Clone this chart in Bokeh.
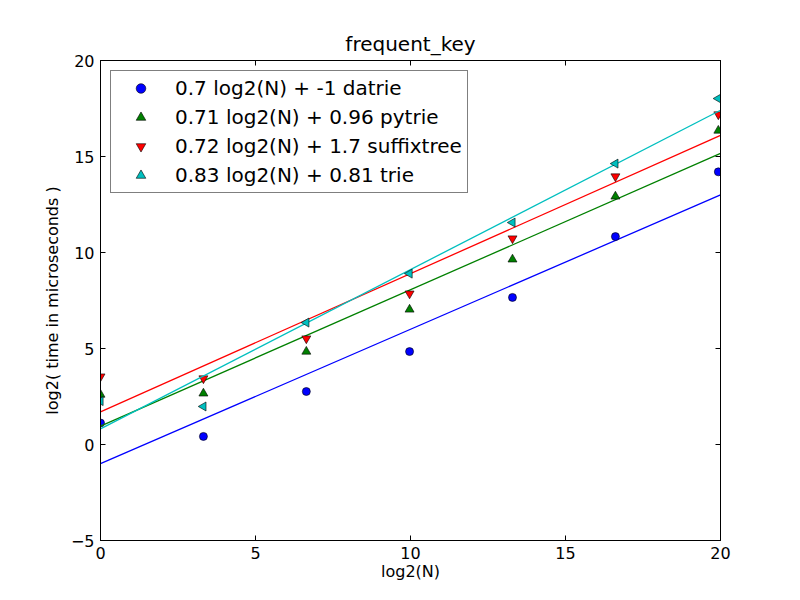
import math
from bokeh.plotting import figure
from bokeh.models import Range1d, LinearAxis, Legend, LegendItem, FixedTicker
from bokeh.embed import file_html
from bokeh.resources import INLINE

# ---- data ----
log2_n = [0.0, 3.32, 6.64, 9.97, 13.29, 16.61, 19.93]
datrie = [1.12, 0.42, 2.76, 4.84, 7.66, 10.83, 14.2]
pytrie = [2.6, 2.66, 4.84, 7.03, 9.64, 12.92, 16.35]
suffixtree = [3.54, 3.44, 5.52, 7.86, 10.73, 13.96, 17.19]
trie = [2.26, 1.98, 6.35, 8.9, 11.56, 14.63, 18.02]

series_names = ["datrie", "pytrie", "suffixtree", "trie"]
fit_slopes = [0.7, 0.71, 0.72, 0.83]
fit_intercepts = [-1.0, 0.96, 1.7, 0.81]
fit_slope_labels = ["0.7", "0.71", "0.72", "0.83"]
fit_intercept_labels = ["-1", "0.96", "1.7", "0.81"]
fit_x = [0, 20]

x_ticks = [0, 5, 10, 15, 20]
y_ticks = [-5, 0, 5, 10, 15, 20]

colors = ["#0000ff", "#008000", "#ff0000", "#00bfbf"]
markers = ["circle", "triangle", "inverted_triangle", "triangle"]
angles = [0, 0, 0, math.pi / 2]
sizes = [8, 9, 9, 9]

FONT = "DejaVu Sans"

p = figure(frame_width=620, frame_height=480,
           min_border_left=100, min_border_right=64,
           min_border_top=60, min_border_bottom=44,
           x_range=Range1d(0, 20), y_range=Range1d(-5, 20),
           output_backend="svg", toolbar_location=None,
           title="frequent_key")

p.title.align = "center"
p.title.text_font = FONT
p.title.text_font_size = "20px"
p.title.text_font_style = "normal"
p.title.text_color = "black"
p.title.standoff = 9

p.grid.visible = False
p.outline_line_color = "black"
p.outline_line_width = 1
p.background_fill_color = "white"
p.border_fill_color = "white"

p.xaxis.axis_label = "log2(N)"
p.yaxis.axis_label = "log2( time in microseconds )"
for ax in (p.xaxis[0], p.yaxis[0]):
    ax.axis_label_text_font = FONT
    ax.axis_label_text_font_size = "16px"
    ax.axis_label_text_font_style = "normal"
    ax.axis_label_text_color = "black"
    ax.major_label_text_font = FONT
    ax.major_label_text_font_size = "16px"
    ax.major_label_text_color = "black"
    ax.major_tick_in = 5
    ax.major_tick_out = 0
    ax.minor_tick_line_color = None
    ax.axis_line_color = "black"
    ax.major_tick_line_color = "black"
    ax.major_label_standoff = 6
p.xaxis[0].axis_label_standoff = 0
p.yaxis[0].axis_label_standoff = 6
p.xaxis[0].ticker = FixedTicker(ticks=x_ticks)
p.yaxis[0].ticker = FixedTicker(ticks=y_ticks)

top = LinearAxis(ticker=FixedTicker(ticks=x_ticks),
                 major_label_overrides={t: "" for t in x_ticks})
right = LinearAxis(ticker=FixedTicker(ticks=y_ticks),
                   major_label_overrides={t: "" for t in y_ticks})
for ax in (top, right):
    ax.major_label_standoff = 0
    ax.major_tick_in = 5
    ax.major_tick_out = 0
    ax.minor_tick_line_color = None
    ax.axis_line_color = "black"
    ax.major_tick_line_color = "black"
p.add_layout(top, "above")
p.add_layout(right, "right")

series = [datrie, pytrie, suffixtree, trie]
items = []
for i, ys in enumerate(series):
    fy = [fit_slopes[i] * xv + fit_intercepts[i] for xv in fit_x]
    p.line(fit_x, fy, line_color=colors[i], line_width=1.3)
    r = p.scatter(log2_n, ys, marker=markers[i], size=sizes[i], angle=angles[i],
                  fill_color=colors[i], line_color="black", line_width=0.6)
    label = f"{fit_slope_labels[i]} log2(N) + {fit_intercept_labels[i]} {series_names[i]}"
    items.append(LegendItem(label=label, renderers=[r]))

legend = Legend(items=items, location="top_left")
legend.margin = 10
legend.padding = 5
legend.spacing = 5
legend.label_height = 24
legend.glyph_height = 24
legend.glyph_width = 49
legend.label_standoff = 10
legend.label_text_font = FONT
legend.label_text_font_size = "20px"
legend.label_text_color = "black"
legend.border_line_color = "black"
legend.border_line_width = 1
legend.background_fill_alpha = 1
p.add_layout(legend, "center")

open("out.html", "w").write(file_html(p, INLINE))
